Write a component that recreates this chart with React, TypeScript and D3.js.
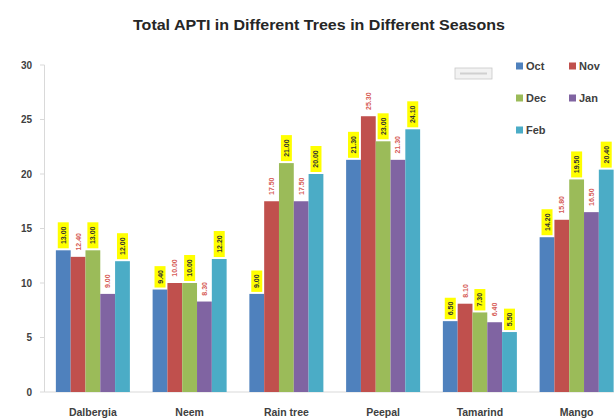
import React from "react";
import * as d3 from "d3";

const title = "Total APTI in Different Trees in Different Seasons";
const trees = ["Dalbergia", "Neem", "Rain tree", "Peepal", "Tamarind", "Mango"];
const months = ["Oct", "Nov", "Dec", "Jan", "Feb"];
const octValues = [13.0, 9.4, 9.0, 21.3, 6.5, 14.2];
const novValues = [12.4, 10.0, 17.5, 25.3, 8.1, 15.8];
const decValues = [13.0, 10.0, 21.0, 23.0, 7.3, 19.5];
const janValues = [9.0, 8.3, 17.5, 21.3, 6.4, 16.5];
const febValues = [12.0, 12.2, 20.0, 24.1, 5.5, 20.4];
const yTicks = [0, 5, 10, 15, 20, 25, 30];

const seriesValues = [octValues, novValues, decValues, janValues, febValues];
const colors = ["#4F81BD", "#C0504D", "#9BBB59", "#8064A2", "#4BACC6"];
// Oct, Dec, Feb labels sit on yellow; Nov and Jan labels are red on white
const labelFill = ["#FFFF00", "#FFFFFF", "#FFFF00", "#FFFFFF", "#FFFF00"];
const labelText = ["#333333", "#D65A55", "#333333", "#D65A55", "#333333"];

const W = 614;
const H = 418;
const font = "'Liberation Sans', Arial, sans-serif";

export default function App() {
  const x0 = d3
    .scaleBand<string>()
    .domain(trees)
    .range([44.5, 625])
    .paddingInner(0.235)
    .paddingOuter(0.1175);
  const x1 = d3.scaleBand<string>().domain(months).range([0, x0.bandwidth()]).padding(0);
  const y = d3.scaleLinear().domain([0, 30]).range([392, 65]);

  const legendPos = [
    { x: 516, y: 66 },
    { x: 569, y: 66 },
    { x: 516, y: 98 },
    { x: 569, y: 98 },
    { x: 516, y: 130 },
  ];

  return (
    <svg
      width={W}
      height={H}
      style={{ position: "absolute", left: 0, top: 0, background: "#fff" }}
      fontFamily={font}
    >
      <rect width={W} height={H} fill="#fff" />
      <text
        x={319}
        y={30}
        textAnchor="middle"
        fontSize={15.5}
        fontWeight="bold"
        fill="#262626"
        textLength={372}
        lengthAdjust="spacingAndGlyphs"
      >
        {title}
      </text>

      {/* value axis */}
      <line x1={44.5} x2={44.5} y1={y(30)} y2={y(0)} stroke="#d9d9d9" />
      {yTicks.map((t) => (
        <g key={t}>
          <line x1={40} x2={44.5} y1={y(t)} y2={y(t)} stroke="#d9d9d9" />
          <text x={32} y={y(t) + 3.5} textAnchor="end" fontSize={10} fontWeight="bold" fill="#404040">
            {t}
          </text>
        </g>
      ))}
      <line x1={44.5} x2={W} y1={y(0)} y2={y(0)} stroke="#d9d9d9" />

      {/* bars */}
      {trees.map((tree, i) => (
        <g key={tree} transform={`translate(${x0(tree)},0)`}>
          {months.map((m, s) => {
            const v = seriesValues[s][i];
            const bx = x1(m)!;
            const bw = x1.bandwidth();
            return (
              <rect key={m} x={bx} y={y(v)} width={bw} height={y(0) - y(v)} fill={colors[s]} />
            );
          })}
        </g>
      ))}

      {/* data labels */}
      {trees.map((tree, i) => (
        <g key={tree} transform={`translate(${x0(tree)},0)`}>
          {months.map((m, s) => {
            const v = seriesValues[s][i];
            const label = v.toFixed(2);
            const cx = x1(m)! + x1.bandwidth() / 2;
            const boxH = label.length * 4.6 + 3;
            const boxW = 11;
            const top = y(v) - 2 - boxH;
            return (
              <g key={m}>
                <rect x={cx - boxW / 2} y={top} width={boxW} height={boxH} fill={labelFill[s]} />
                <text
                  transform={`translate(${cx + 2.5},${top + boxH / 2}) rotate(-90)`}
                  textAnchor="middle"
                  fontSize={7}
                  fontWeight="bold"
                  fill={labelText[s]}
                >
                  {label}
                </text>
              </g>
            );
          })}
        </g>
      ))}

      {/* category labels */}
      {trees.map((tree) => (
        <text
          key={tree}
          x={x0(tree)! + x0.bandwidth() / 2}
          y={416}
          textAnchor="middle"
          fontSize={10.5}
          fontWeight="bold"
          fill="#404040"
        >
          {tree}
        </text>
      ))}

      {/* legend */}
      <rect x={455} y={68} width={37} height={11} fill="#f2f2f2" stroke="#c8c8c8" strokeWidth={0.8} />
      <line x1={460} x2={487} y1={73.5} y2={73.5} stroke="#d0d0d0" strokeWidth={2} />
      {months.map((m, s) => (
        <g key={m}>
          <rect x={legendPos[s].x} y={legendPos[s].y - 3.5} width={7} height={7} fill={colors[s]} />
          <text x={legendPos[s].x + 10} y={legendPos[s].y + 4} fontSize={11} fontWeight="bold" fill="#404040">
            {m}
          </text>
        </g>
      ))}
    </svg>
  );
}
